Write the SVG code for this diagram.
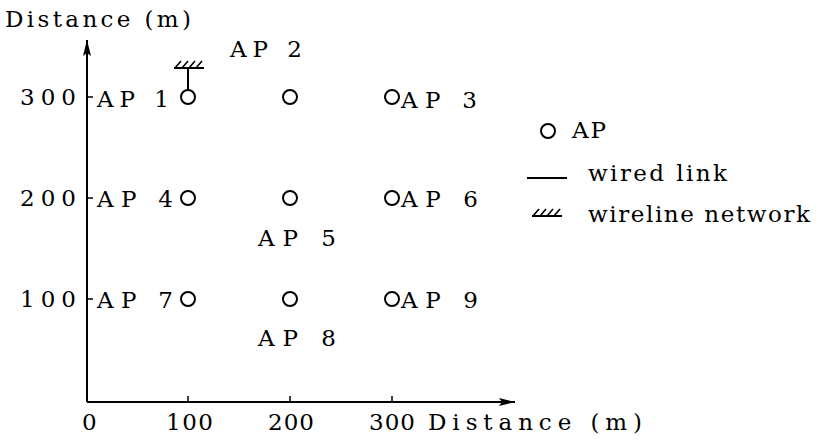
<svg xmlns="http://www.w3.org/2000/svg" width="821" height="441" viewBox="0 0 821 441">
  <style>
    text { font-family: "DejaVu Serif", "Liberation Serif", serif; font-size: 23px; fill: #000; }
    .ap { fill: #fff; stroke: #000; stroke-width: 2; }
    .ln { stroke: #000; stroke-width: 2; fill: none; }
    .tick { stroke: #000; stroke-width: 1.5; fill: none; }
    .hatch { stroke: #000; stroke-width: 1.6; fill: none; }
  </style>
  <defs>
    <marker id="arrow" viewBox="0 0 16 8" refX="16" refY="4" markerWidth="16" markerHeight="8" markerUnits="userSpaceOnUse" orient="auto">
      <path d="M0,0 L16,4 L0,8 L3,4 Z" fill="#000"/>
    </marker>
    <!-- wireline network (ground-style hatch) symbol -->
    <g id="wireline">
      <line x1="-15" y1="0" x2="15" y2="0" class="ln"/>
      <path d="M-14,0 L-8,-7 M-7,0 L-1,-7 M0,0 L6,-7 M7,0 L13,-7" class="hatch"/>
    </g>
  </defs>

  <!-- axes -->
  <g id="axes">
    <line x1="87" y1="402" x2="87" y2="40" class="ln" marker-end="url(#arrow)"/>
    <line x1="87" y1="402" x2="515" y2="402" class="ln" marker-end="url(#arrow)"/>
    <path d="M87,97 H93 M87,198 H93 M87,299 H93" class="tick"/>
    <path d="M188,402 V396 M290,402 V396 M392,402 V396" class="tick"/>
    <text x="5" y="27" textLength="186" lengthAdjust="spacing">Distance (m)</text>
    <text x="20" y="105" textLength="56" lengthAdjust="spacing">300</text>
    <text x="20" y="206" textLength="56" lengthAdjust="spacing">200</text>
    <text x="20" y="307" textLength="56" lengthAdjust="spacing">100</text>
    <text x="82" y="430">0</text>
    <text x="166" y="430" textLength="47" lengthAdjust="spacing">100</text>
    <text x="268" y="430" textLength="46" lengthAdjust="spacing">200</text>
    <text x="369" y="430" textLength="46" lengthAdjust="spacing">300</text>
    <text x="428" y="430" textLength="214" lengthAdjust="spacing">Distance (m)</text>
  </g>

  <!-- wired link from AP 1 to the wireline network -->
  <g id="connectors">
    <line x1="188" y1="68" x2="188" y2="90" class="ln"/>
    <use href="#wireline" x="189" y="68"/>
  </g>

  <g id="ap1"><circle cx="188" cy="97" r="7" class="ap"/><text x="97" y="107" textLength="72" lengthAdjust="spacing">AP 1</text></g>
  <g id="ap2"><circle cx="290" cy="97" r="7" class="ap"/><text x="230" y="57" textLength="72" lengthAdjust="spacing">AP 2</text></g>
  <g id="ap3"><circle cx="392" cy="97" r="7" class="ap"/><text x="401" y="108" textLength="76" lengthAdjust="spacing">AP 3</text></g>
  <g id="ap4"><circle cx="188" cy="198" r="7" class="ap"/><text x="97" y="207" textLength="76" lengthAdjust="spacing">AP 4</text></g>
  <g id="ap5"><circle cx="290" cy="198" r="7" class="ap"/><text x="258" y="246" textLength="78" lengthAdjust="spacing">AP 5</text></g>
  <g id="ap6"><circle cx="392" cy="198" r="7" class="ap"/><text x="401" y="207" textLength="77" lengthAdjust="spacing">AP 6</text></g>
  <g id="ap7"><circle cx="188" cy="299" r="7" class="ap"/><text x="97" y="308" textLength="76" lengthAdjust="spacing">AP 7</text></g>
  <g id="ap8"><circle cx="290" cy="299" r="7" class="ap"/><text x="258" y="346" textLength="78" lengthAdjust="spacing">AP 8</text></g>
  <g id="ap9"><circle cx="392" cy="299" r="7" class="ap"/><text x="401" y="308" textLength="77" lengthAdjust="spacing">AP 9</text></g>

  <!-- legend -->
  <g id="legend">
    <circle cx="548" cy="131" r="7" class="ap"/>
    <text x="572" y="138" textLength="34" lengthAdjust="spacing">AP</text>
    <line x1="527" y1="178" x2="567" y2="178" class="ln"/>
    <text x="588" y="181" textLength="139" lengthAdjust="spacing">wired link</text>
    <use href="#wireline" x="547" y="216"/>
    <text x="588" y="222" textLength="222" lengthAdjust="spacing">wireline network</text>
  </g>
</svg>
